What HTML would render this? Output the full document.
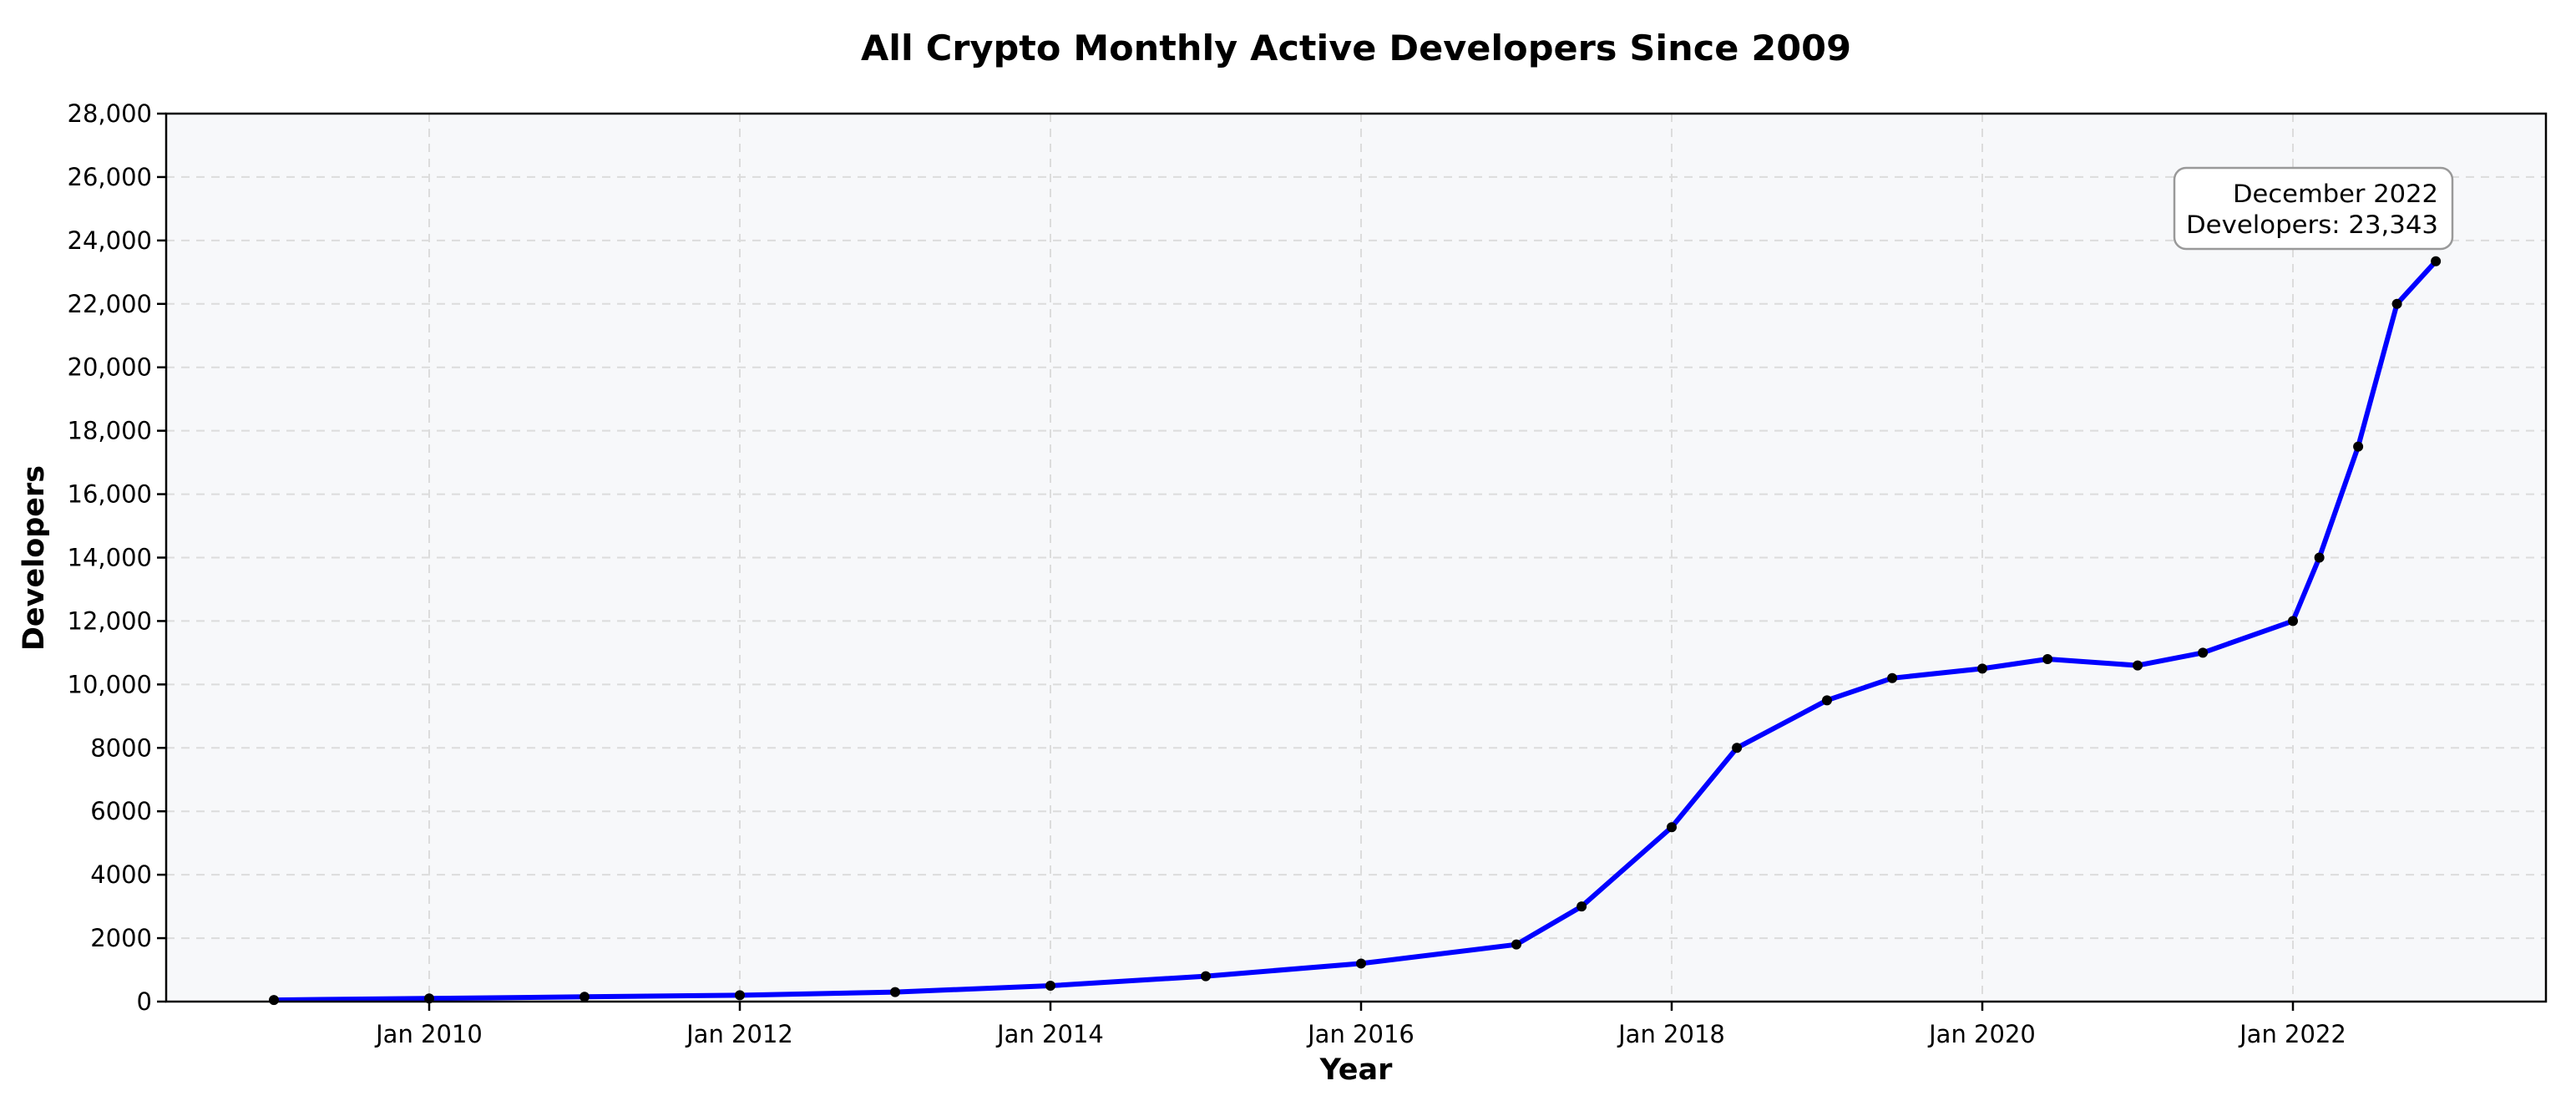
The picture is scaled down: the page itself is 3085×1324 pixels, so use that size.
<!DOCTYPE html>
<html><head><meta charset="utf-8"><style>
html,body{margin:0;padding:0;background:#fff}
svg{display:block;font-family:"DejaVu Sans","Liberation Sans",sans-serif}
</style></head><body>
<svg id="chart" width="3085" height="1324" viewBox="0 0 3085 1324" xmlns="http://www.w3.org/2000/svg">
<rect width="3085" height="1324" fill="#fff"/>
<text x="1624" y="72" text-anchor="middle" font-size="42" font-weight="bold" textLength="1186" lengthAdjust="spacingAndGlyphs">All Crypto Monthly Active Developers Since 2009</text>
<rect x="199" y="136" width="2850" height="1063" fill="#f7f8fa"/>
<g id="grid"></g>
<g id="series"></g>
<rect x="199" y="136" width="2850" height="1063" fill="none" stroke="#000" stroke-width="2.5"/>
<g id="axes"></g>
<text x="1624" y="1292" text-anchor="middle" font-size="35" font-weight="bold">Year</text>
<text transform="translate(52,668) rotate(-90)" text-anchor="middle" font-size="35" font-weight="bold">Developers</text>
<g>
<rect x="2604" y="201" width="333" height="97" rx="14" fill="#fff" stroke="#999" stroke-width="2.5"/>
<text x="2920" y="242" text-anchor="end" font-size="29" textLength="246" lengthAdjust="spacingAndGlyphs">December 2022</text>
<text x="2920" y="279" text-anchor="end" font-size="29" textLength="302" lengthAdjust="spacingAndGlyphs">Developers: 23,343</text>
</g>
</svg>
<script>
// data (year + fractional month)
const years = [2009,2010,2011,2012,2013,2014,2015,2016,2017,2017.42,2018,2018.42,2019,2019.42,2020,2020.42,2021,2021.42,2022,2022.17,2022.42,2022.67,2022.92];
const developers = [50,100,150,200,300,500,800,1200,1800,3000,5500,8000,9500,10200,10500,10800,10600,11000,12000,14000,17500,22000,23343];
const xTickYears = [2010,2012,2014,2016,2018,2020,2022];
const xTickLabels = ["Jan 2010","Jan 2012","Jan 2014","Jan 2016","Jan 2018","Jan 2020","Jan 2022"];
const yTicks = [0,2000,4000,6000,8000,10000,12000,14000,16000,18000,20000,22000,24000,26000,28000];

const NS="http://www.w3.org/2000/svg";
const X0=199,X1=3049,Y0=1199,Y1=136;
const xMin=2009+(199-328)/186.0, xMax=xMin+(X1-X0)/186.0;
function xs(v){return X0+(v-xMin)/(xMax-xMin)*(X1-X0);}
function ys(v){return Y0-(v/28000)*(Y0-Y1);}
function mk(tag,attrs,parent){const e=document.createElementNS(NS,tag);for(const k in attrs)e.setAttribute(k,attrs[k]);parent.appendChild(e);return e;}
const grid=document.getElementById('grid'),axes=document.getElementById('axes'),series=document.getElementById('series');
function fmt(v){return v>=10000?v.toLocaleString('en-US'):String(v);}
yTicks.forEach(v=>{
  const y=ys(v);
  if(v>0&&v<28000){const g=mk('line',{x1:X0,x2:X1,y1:y,y2:y,stroke:'#dcdcdc','stroke-width':2,'stroke-dasharray':'10 8'},grid);
  
  }
  const t=mk('line',{x1:X0-11,x2:X0,y1:y,y2:y,stroke:'#000','stroke-width':2.5},axes);
  
  
  const l=mk('text',{x:X0-17,y:y+10,'text-anchor':'end','font-size':29},axes);
  
  
  l.textContent=fmt(v);
});
xTickYears.forEach((v,i)=>{
  const x=xs(v);
  const g=mk('line',{x1:x,x2:x,y1:Y1,y2:Y0,stroke:'#dcdcdc','stroke-width':2,'stroke-dasharray':'10 8'},grid);
  
  
  const t=mk('line',{x1:x,x2:x,y1:Y0,y2:Y0+11,stroke:'#000','stroke-width':2.5},axes);
  
  
  const l=mk('text',{x:x,y:Y0+49,'text-anchor':'middle','font-size':29},axes);
  
  
  l.textContent=xTickLabels[i];
});
const pts=years.map((v,i)=>xs(v).toFixed(1)+','+ys(developers[i]).toFixed(1)).join(' ');
const line=mk('polyline',{points:pts,fill:'none',stroke:'#0000ff','stroke-width':6,'stroke-linejoin':'round'},series);


years.forEach((v,i)=>{
  const c=mk('circle',{cx:xs(v),cy:ys(developers[i]),r:6,fill:'#000'},series);
  
  
});
</script>
</body></html>
